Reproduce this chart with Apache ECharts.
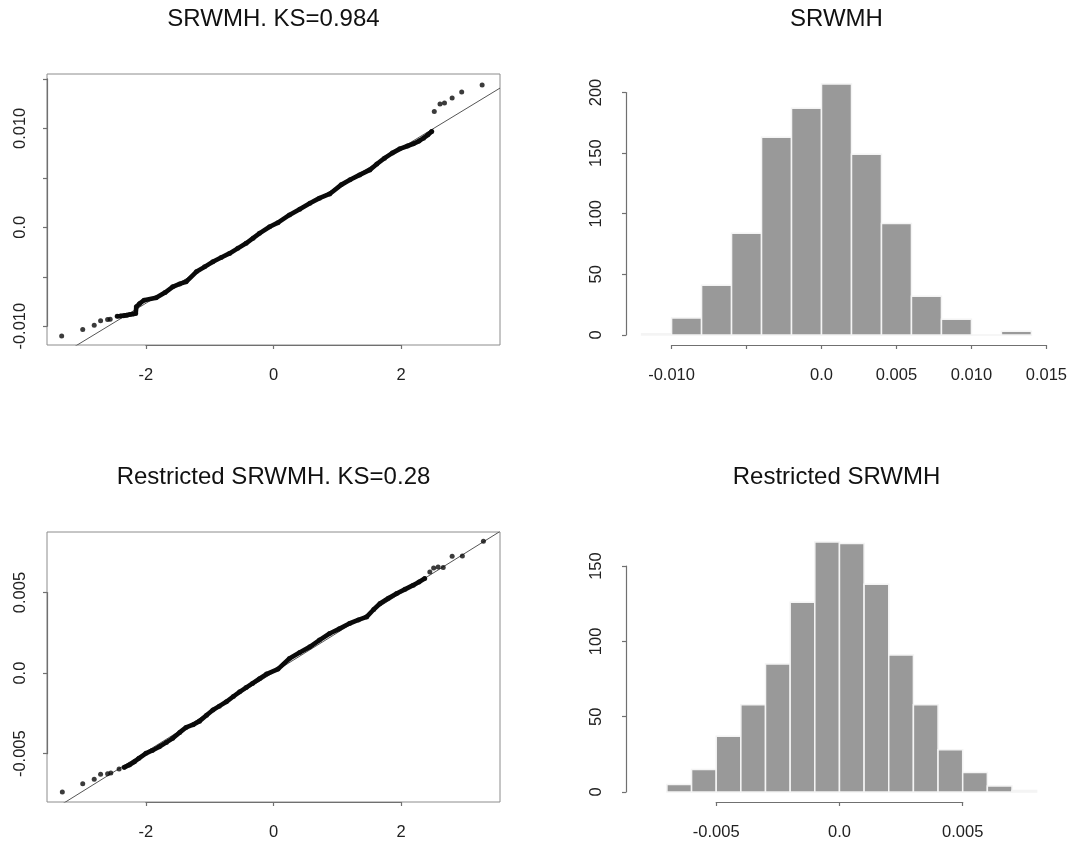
<!DOCTYPE html>
<html>
<head>
<meta charset="utf-8">
<title>SRWMH</title>
<style>
html, body { margin: 0; padding: 0; background: #fff; }
#main { width: 1071px; height: 848px; }
</style>
<script src="https://cdn.jsdelivr.net/npm/echarts@6/dist/echarts.min.js"></script>
</head>
<body>
<div id="main"></div>
<script>
// ---- data ----

// QQ plot, SRWMH: [theoretical quantile, sample quantile]
var qqTopLowTail = [[-3.32, -0.01098], [-2.99, -0.01034], [-2.81, -0.00990], [-2.71, -0.00946], [-2.60, -0.00932], [-2.56, -0.00930]];
var qqTopBody = [[-2.45, -0.00899], [-2.40, -0.00897], [-2.35, -0.00893], [-2.30, -0.00888], [-2.25, -0.00882], [-2.20, -0.00876],
    [-2.16, -0.00871], [-2.15, -0.00804], [-2.10, -0.00772], [-2.03, -0.00737], [-1.84, -0.00713], [-1.70, -0.00660],
    [-1.58, -0.00602], [-1.47, -0.00572], [-1.37, -0.00551], [-1.21, -0.00450], [-1.08, -0.00400], [-0.95, -0.00349],
    [-0.82, -0.00305], [-0.69, -0.00264], [-0.56, -0.00213], [-0.43, -0.00162], [-0.32, -0.00110], [-0.22, -0.00061],
    [-0.06, 0.00006], [0.07, 0.00047], [0.25, 0.00125], [0.41, 0.00183], [0.57, 0.00243], [0.72, 0.00295],
    [0.88, 0.00337], [1.06, 0.00429], [1.20, 0.00480], [1.35, 0.00530], [1.51, 0.00580], [1.62, 0.00640],
    [1.74, 0.00699], [1.86, 0.00750], [1.98, 0.00793], [2.10, 0.00822], [2.19, 0.00844], [2.28, 0.00872],
    [2.35, 0.00901], [2.42, 0.00935], [2.48, 0.00969]];
var qqTopHighTail = [[2.52, 0.01171], [2.61, 0.01246], [2.68, 0.01256], [2.80, 0.01307], [2.95, 0.01368], [3.27, 0.01439]];
var qqTopLine = [0.00016, 0.00392]; // qqline: intercept, slope

// QQ plot, Restricted SRWMH
var qqBotLowTail = [[-3.31, -0.00738], [-2.99, -0.00686], [-2.81, -0.00659], [-2.71, -0.00628], [-2.60, -0.00624], [-2.55, -0.00620], [-2.42, -0.00595]];
var qqBotBody = [[-2.34, -0.00585], [-2.26, -0.00570], [-2.18, -0.00550], [-2.11, -0.00529], [-2.00, -0.00498], [-1.90, -0.00480],
    [-1.79, -0.00457], [-1.68, -0.00430], [-1.58, -0.00405], [-1.47, -0.00368], [-1.37, -0.00337], [-1.26, -0.00320],
    [-1.16, -0.00298], [-1.05, -0.00262], [-0.95, -0.00229], [-0.85, -0.00205], [-0.74, -0.00178], [-0.63, -0.00145],
    [-0.53, -0.00116], [-0.43, -0.00090], [-0.33, -0.00064], [-0.22, -0.00035], [-0.11, -0.00006], [0.07, 0.00025],
    [0.25, 0.00091], [0.41, 0.00128], [0.57, 0.00163], [0.72, 0.00205], [0.88, 0.00246], [1.03, 0.00275],
    [1.19, 0.00308], [1.33, 0.00330], [1.46, 0.00349], [1.57, 0.00395], [1.67, 0.00432], [1.80, 0.00465],
    [1.93, 0.00494], [2.06, 0.00520], [2.19, 0.00546], [2.28, 0.00566], [2.37, 0.00587]];
var qqBotHighTail = [[2.45, 0.00628], [2.51, 0.00653], [2.58, 0.00659], [2.66, 0.00655], [2.80, 0.00725], [2.96, 0.00727], [3.29, 0.00818]];
var qqBotLine = [0.00004, 0.002466];

// histograms: bin breaks and counts
var histTopBreaks = [-0.012, -0.010, -0.008, -0.006, -0.004, -0.002, 0, 0.002, 0.004, 0.006, 0.008, 0.010, 0.012, 0.014];
var histTopCounts = [1, 14, 41, 84, 163, 187, 207, 149, 92, 32, 13, 0, 3];
var histBotBreaks = [-0.007, -0.006, -0.005, -0.004, -0.003, -0.002, -0.001, 0, 0.001, 0.002, 0.003, 0.004, 0.005, 0.006, 0.007, 0.008];
var histBotCounts = [5, 15, 37, 58, 85, 126, 166, 165, 138, 91, 58, 28, 13, 4, 1];

// tick positions and their labels ('' = tick without label)
var qqXTicks = [-2, 0, 2];
var qqXLabels = ['-2', '0', '2'];
var qqTopYTicks = [-0.010, -0.005, 0, 0.005, 0.010, 0.015];
var qqTopYLabels = ['-0.010', '', '0.0', '', '0.010', ''];
var qqBotYTicks = [-0.005, 0, 0.005];
var qqBotYLabels = ['-0.005', '0.0', '0.005'];
var histTopXTicks = [-0.010, -0.005, 0, 0.005, 0.010, 0.015];
var histTopXLabels = ['-0.010', '', '0.0', '0.005', '0.010', '0.015'];
var histTopYTicks = [0, 50, 100, 150, 200];
var histTopYLabels = ['0', '50', '100', '150', '200'];
var histBotXTicks = [-0.005, 0, 0.005];
var histBotXLabels = ['-0.005', '0.0', '0.005'];
var histBotYTicks = [0, 50, 100, 150];
var histBotYLabels = ['0', '50', '100', '150'];

var titles = ['SRWMH. KS=0.984', 'SRWMH', 'Restricted SRWMH. KS=0.28', 'Restricted SRWMH'];

// ---- layout ----
var FONT = '"Liberation Sans", Arial, Helvetica, sans-serif';
var rectTL = [47, 74, 453, 271], rectTR = [626, 74, 421, 271];
var rectBL = [47, 532, 453, 270], rectBR = [626, 532, 421, 270];
var axisStyle = {color: '#707070', width: 1.2};

var option = {
    animation: false,
    backgroundColor: '#fff',
    grid: [], xAxis: [], yAxis: [], series: [], graphic: []
};

function pickLabel(ticks, labels) {
    return function (v) {
        for (var i = 0; i < ticks.length; i++) {
            if (Math.abs(ticks[i] - v) < 1e-9) return labels[i];
        }
        return '';
    };
}

// plot region: every grid gets one xAxis and one yAxis, so indices stay equal
function addPlotRegion(rect, xr, yr, box) {
    var g = option.grid.length;
    option.grid.push({left: rect[0], top: rect[1], width: rect[2], height: rect[3], show: box,
        borderColor: '#8c8c8c', borderWidth: 1, backgroundColor: 'transparent', outerBoundsMode: 'none'});
    option.xAxis.push({gridIndex: g, type: 'value', min: xr[0], max: xr[1], show: false});
    option.yAxis.push({gridIndex: g, type: 'value', min: yr[0], max: yr[1], show: false});
    return g;
}

// R style axis: the line only runs from the first to the last tick
function addXRuler(rect, xr, ticks, labels) {
    var t0 = ticks[0], t1 = ticks[ticks.length - 1];
    var k = rect[2] / (xr[1] - xr[0]);
    var g = option.grid.length;
    option.grid.push({left: rect[0] + (t0 - xr[0]) * k, top: rect[1], width: (t1 - t0) * k, height: rect[3],
        show: false, outerBoundsMode: 'none'});
    option.xAxis.push({gridIndex: g, type: 'value', min: t0, max: t1, interval: ticks[1] - ticks[0],
        axisLine: {show: true, onZero: false, lineStyle: axisStyle},
        axisTick: {show: true, length: 4, lineStyle: axisStyle},
        splitLine: {show: false},
        axisLabel: {formatter: pickLabel(ticks, labels), margin: 22, fontSize: 16.5, fontFamily: FONT,
            color: '#222', showMinLabel: true, showMaxLabel: true}});
    option.yAxis.push({gridIndex: g, type: 'value', show: false});
}

function addYRuler(rect, yr, ticks, labels, margin) {
    var t0 = ticks[0], t1 = ticks[ticks.length - 1];
    var k = rect[3] / (yr[1] - yr[0]);
    var g = option.grid.length;
    option.grid.push({left: rect[0], top: rect[1] + (yr[1] - t1) * k, width: rect[2], height: (t1 - t0) * k,
        show: false, outerBoundsMode: 'none'});
    option.xAxis.push({gridIndex: g, type: 'value', show: false});
    option.yAxis.push({gridIndex: g, type: 'value', min: t0, max: t1, interval: ticks[1] - ticks[0],
        axisLine: {show: true, onZero: false, lineStyle: axisStyle},
        axisTick: {show: true, length: 4, lineStyle: axisStyle},
        splitLine: {show: false},
        axisLabel: {formatter: pickLabel(ticks, labels), rotate: 90, margin: margin, fontSize: 16.5, fontFamily: FONT,
            color: '#222', showMinLabel: true, showMaxLabel: true}});
}

function addQQ(g, lowTail, body, highTail, qqline, xr) {
    // reference line
    option.series.push({type: 'line', xAxisIndex: g, yAxisIndex: g, silent: true, showSymbol: false, z: 1,
        data: [[xr[0], qqline[0] + qqline[1] * xr[0]], [xr[1], qqline[0] + qqline[1] * xr[1]]],
        lineStyle: {color: '#555', width: 1}});
    // the dense run of points reads as a thick band
    option.series.push({type: 'line', xAxisIndex: g, yAxisIndex: g, silent: true, showSymbol: false, z: 2,
        data: body, lineStyle: {color: '#0a0a0a', width: 4.6, cap: 'round', join: 'round'}});
    option.series.push({type: 'scatter', xAxisIndex: g, yAxisIndex: g, silent: true, z: 3,
        data: lowTail.concat(body, highTail), symbolSize: 5, itemStyle: {color: '#0a0a0a'}});
}

function renderBar(params, api) {
    var p0 = api.coord([api.value(0), api.value(2)]);
    var p1 = api.coord([api.value(1), 0]);
    return {
        type: 'rect',
        shape: {x: p0[0], y: p0[1], width: p1[0] - p0[0], height: p1[1] - p0[1]},
        style: {fill: '#999999', stroke: '#f4f4f4', lineWidth: 1.5}
    };
}

function addHist(g, breaks, counts) {
    var data = [];
    for (var i = 0; i < counts.length; i++) {
        data.push([breaks[i], breaks[i + 1], counts[i]]);
    }
    option.series.push({type: 'custom', xAxisIndex: g, yAxisIndex: g, silent: true,
        renderItem: renderBar, encode: {x: [0, 1], y: 2}, data: data});
}

function addTitle(text, cx, cy) {
    option.graphic.push({type: 'text', x: cx, y: cy, silent: true,
        style: {text: text, fill: '#111', font: '24px ' + FONT,
            align: 'center', verticalAlign: 'middle', textAlign: 'center', textVerticalAlign: 'middle'}});
}

// plot ranges (R extends the data range by 4%)
var qqX = [-3.55, 3.55];
var qqTopY = [-0.0119, 0.0155];
var qqBotY = [-0.0080, 0.00876];
var histTopX = [-0.01304, 0.01504];
var histTopY = [-8.28, 215.28];
var histBotX = [-0.00866, 0.00842];
var histBotY = [-6.64, 172.64];

// top left: QQ plot SRWMH
var g = addPlotRegion(rectTL, qqX, qqTopY, true);
addQQ(g, qqTopLowTail, qqTopBody, qqTopHighTail, qqTopLine, qqX);
addXRuler(rectTL, qqX, qqXTicks, qqXLabels);
addYRuler(rectTL, qqTopY, qqTopYTicks, qqTopYLabels, 18);

// top right: histogram SRWMH
g = addPlotRegion(rectTR, histTopX, histTopY, false);
addHist(g, histTopBreaks, histTopCounts);
addXRuler(rectTR, histTopX, histTopXTicks, histTopXLabels);
addYRuler(rectTR, histTopY, histTopYTicks, histTopYLabels, 21);

// bottom left: QQ plot restricted
g = addPlotRegion(rectBL, qqX, qqBotY, true);
addQQ(g, qqBotLowTail, qqBotBody, qqBotHighTail, qqBotLine, qqX);
addXRuler(rectBL, qqX, qqXTicks, qqXLabels);
addYRuler(rectBL, qqBotY, qqBotYTicks, qqBotYLabels, 18);

// bottom right: histogram restricted
g = addPlotRegion(rectBR, histBotX, histBotY, false);
addHist(g, histBotBreaks, histBotCounts);
addXRuler(rectBR, histBotX, histBotXTicks, histBotXLabels);
addYRuler(rectBR, histBotY, histBotYTicks, histBotYLabels, 21);

addTitle(titles[0], rectTL[0] + rectTL[2] / 2, 19);
addTitle(titles[1], rectTR[0] + rectTR[2] / 2, 19);
addTitle(titles[2], rectBL[0] + rectBL[2] / 2, 477);
addTitle(titles[3], rectBR[0] + rectBR[2] / 2, 477);

echarts.init(document.getElementById('main')).setOption(option);
</script>
</body>
</html>
